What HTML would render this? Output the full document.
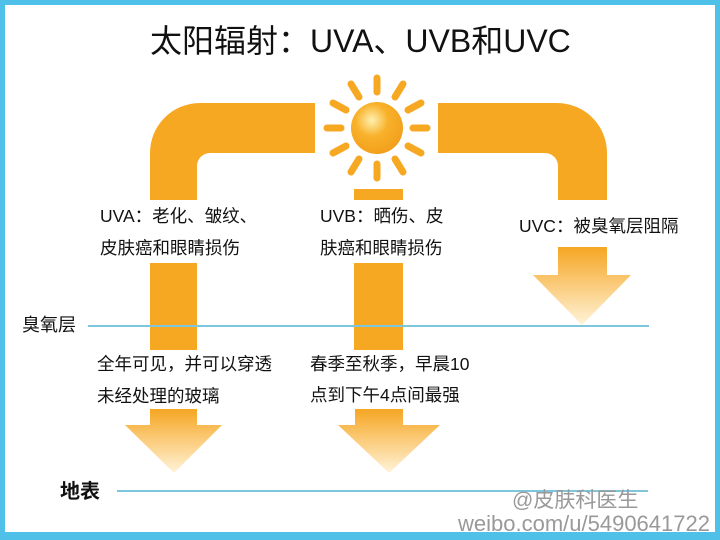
<!DOCTYPE html>
<html><head><meta charset="utf-8"><style>
html,body{margin:0;padding:0}
body{width:720px;height:540px;overflow:hidden;background:#4fc1e9;position:relative;font-family:"Liberation Sans","Noto Sans CJK SC",sans-serif}
.in{position:absolute;left:5px;top:5px;width:710px;height:527px;background:#fff}
.t{position:absolute;white-space:nowrap;color:#111;font-size:17.5px;line-height:1}
</style></head><body>
<div class="in"></div>
<svg width="720" height="540" style="position:absolute;left:0;top:0">
<defs>
<linearGradient id="g" x1="0" y1="0" x2="0" y2="1"><stop offset="0" stop-color="#f6a623"/><stop offset="1" stop-color="#fff3d8"/></linearGradient>
<radialGradient id="s" cx="0.4" cy="0.35" r="0.7"><stop offset="0" stop-color="#fff0b0"/><stop offset="0.45" stop-color="#f8b12a"/><stop offset="1" stop-color="#f29e1a"/></radialGradient>
</defs>
<g fill="#f7a823">
<path d="M150 200 V153 A50 50 0 0 1 200 103 H315 V153 H210 A13 13 0 0 0 197 166 V200 Z"/>
<rect x="150" y="263" width="47" height="87"/>
<rect x="354" y="189" width="49" height="11"/>
<rect x="354" y="263" width="49" height="87"/>
<path d="M438 103 H557 A50 50 0 0 1 607 153 V200 H558 V166 A13 13 0 0 0 545 153 H438 Z"/>
</g>
<path d="M150 409 H197 V425 H222 L174 473 L125 425 H150 Z" fill="url(#g)"/>
<path d="M355 409 H403 V425 H440 L389 473 L338 425 H355 Z" fill="url(#g)"/>
<path d="M558 247 H607 V275 H631 L582 325 L533 275 H558 Z" fill="url(#g)"/>
<circle cx="377" cy="128" r="26" fill="url(#s)"/>
<g stroke="#f7a823" stroke-width="7" stroke-linecap="round">
<line x1="377" y1="92" x2="377" y2="78"/><line x1="377" y1="164" x2="377" y2="178"/>
<line x1="341" y1="128" x2="327" y2="128"/><line x1="413" y1="128" x2="427" y2="128"/>
<line x1="359" y1="97" x2="351" y2="84"/><line x1="395" y1="97" x2="403" y2="84"/>
<line x1="359" y1="159" x2="351" y2="172"/><line x1="395" y1="159" x2="403" y2="172"/>
<line x1="346" y1="110" x2="333" y2="103"/><line x1="408" y1="110" x2="421" y2="103"/>
<line x1="346" y1="146" x2="333" y2="153"/><line x1="408" y1="146" x2="421" y2="153"/>
</g>
<line x1="88" y1="326" x2="649" y2="326" stroke="#7ec6dc" stroke-width="2"/>
<line x1="117" y1="491" x2="648" y2="491" stroke="#7ec6dc" stroke-width="2"/>
</svg>
<div class="t" style="left:150px;top:25px;font-size:32px">太阳辐射：UVA、UVB和UVC</div>
<div class="t" style="left:100px;top:208px">UVA：老化、皱纹、</div>
<div class="t" style="left:100px;top:240px">皮肤癌和眼睛损伤</div>
<div class="t" style="left:320px;top:208px">UVB：晒伤、皮</div>
<div class="t" style="left:320px;top:240px">肤癌和眼睛损伤</div>
<div class="t" style="left:519px;top:218px">UVC：被臭氧层阻隔</div>
<div class="t" style="left:22px;top:316px;font-size:18px">臭氧层</div>
<div class="t" style="left:97px;top:356px">全年可见，并可以穿透</div>
<div class="t" style="left:97px;top:388px">未经处理的玻璃</div>
<div class="t" style="left:310px;top:356px">春季至秋季，早晨10</div>
<div class="t" style="left:310px;top:387px">点到下午4点间最强</div>
<div class="t" style="left:60px;top:482px;font-size:20px;font-weight:bold">地表</div>
<div class="t" style="left:512px;top:490px;font-size:21px;color:#999">@皮肤科医生</div>
<div class="t" style="left:458px;top:513px;font-size:22px;color:#999">weibo.com/u/5490641722</div>
</body></html>
